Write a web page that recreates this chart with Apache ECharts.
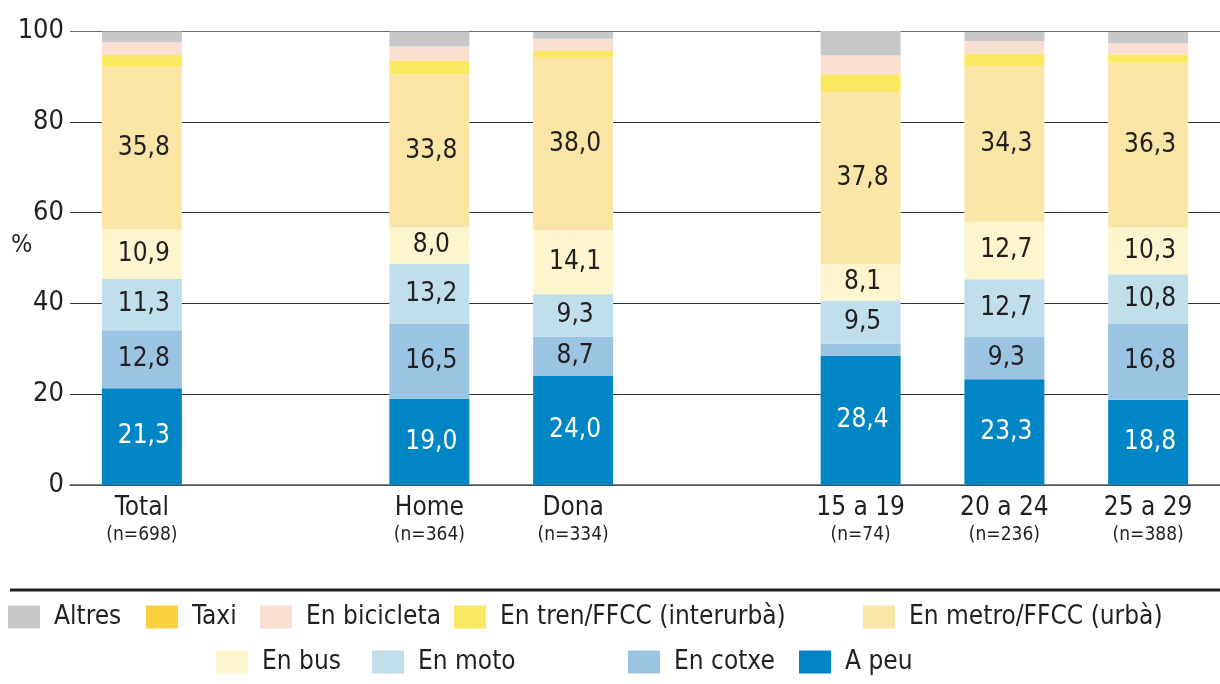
<!DOCTYPE html>
<html>
<head>
<meta charset="utf-8">
<script src="https://cdn.jsdelivr.net/npm/echarts@6/dist/echarts.min.js"></script>
<style>
  html, body { margin: 0; padding: 0; background: #fff; }
  #chart { width: 1220px; height: 684px; }
</style>
</head>
<body>
<div id="chart"></div>
<script>
// Groups along the x axis; empty names leave a gap between groups
const categories = ['Total', '', 'Home', 'Dona', '', '15 a 19', '20 a 24', '25 a 29'];
const sampleSizes = ['698', '', '364', '334', '', '74', '236', '388'];

// Share of trips by mode (%), one value per category ('-' = gap)
const aPeu       = [21.3, '-', 19.0, 24.0, '-', 28.4, 23.3, 18.8];
const enCotxe    = [12.8, '-', 16.5,  8.7, '-',  2.7,  9.3, 16.8];
const enMoto     = [11.3, '-', 13.2,  9.3, '-',  9.5, 12.7, 10.8];
const enBus      = [10.9, '-',  8.0, 14.1, '-',  8.1, 12.7, 10.3];
const enMetro    = [35.8, '-', 33.8, 38.0, '-', 37.8, 34.3, 36.3];
const enTren     = [ 2.6, '-',  3.0,  1.5, '-',  4.0,  2.7,  1.8];
const enBicicleta= [ 2.8, '-',  3.1,  2.7, '-',  4.1,  2.8,  2.5];
const taxi       = [ 0.0, '-',  0.0,  0.0, '-',  0.0,  0.0,  0.0];
const altres     = [ 2.4, '-',  3.3,  1.5, '-',  5.4,  2.0,  2.5];

const yTicks = [0, 20, 40, 60, 80, 100];

// Legend rows: entry name with its left edge
const legendRow1 = ['Altres', 'Taxi', 'En bicicleta', 'En tren/FFCC (interurbà)', 'En metro/FFCC (urbà)'];
const legendRow1Left = [8, 146, 260, 454, 863];
const legendRow2 = ['En bus', 'En moto', 'En cotxe', 'A peu'];
const legendRow2Left = [216, 372, 628, 799];

const FONT = "'Liberation Sans Narrow', 'DejaVu Sans Condensed', 'Roboto', sans-serif";
const DARK = '#231f20';

function fmt(v) {
  return String(v.toFixed(1)).replace('.', ',');
}

function makeSeries(name, data, color, labelColor, showLabel) {
  return {
    name: name,
    type: 'bar',
    stack: 'modes',
    barWidth: 80,
    data: data,
    itemStyle: { color: color },
    label: {
      show: showLabel,
      position: 'inside',
      offset: [2, 0],
      color: labelColor,
      fontFamily: FONT,
      fontSize: 26,
      // thin slivers get no text
      formatter: p => (p.value >= 5 ? fmt(p.value) : '')
    },
    emphasis: { disabled: true }
  };
}

const series = [
  makeSeries('A peu', aPeu, '#0086c5', '#ffffff', true),
  makeSeries('En cotxe', enCotxe, '#9bc4e2', DARK, true),
  makeSeries('En moto', enMoto, '#c0dfeb', DARK, true),
  makeSeries('En bus', enBus, '#fcf5cd', DARK, true),
  makeSeries('En metro/FFCC (urbà)', enMetro, '#f9e5a5', DARK, true),
  makeSeries('En tren/FFCC (interurbà)', enTren, '#f9e862', DARK, false),
  makeSeries('En bicicleta', enBicicleta, '#f8dfd2', DARK, false),
  makeSeries('Taxi', taxi, '#fdd13e', DARK, false),
  makeSeries('Altres', altres, '#c7c8ca', DARK, false)
];

function legendItem(name, left, top) {
  return {
    orient: 'horizontal',
    left: left,
    top: top,
    padding: 0,
    itemWidth: 32,
    itemHeight: 23,
    icon: 'rect',
    selectedMode: false,
    data: [name],
    textStyle: {
      fontFamily: FONT,
      fontSize: 26,
      color: DARK,
      padding: [0, 0, 0, 9]
    }
  };
}

const legends = [];
legendRow1.forEach((n, i) => legends.push(legendItem(n, legendRow1Left[i], 604)));
legendRow2.forEach((n, i) => legends.push(legendItem(n, legendRow2Left[i], 649)));

const chart = echarts.init(document.getElementById('chart'), null, { renderer: 'canvas' });

chart.setOption({
  animation: false,
  backgroundColor: '#ffffff',
  grid: { left: 70, right: 0, top: 31, bottom: 199, containLabel: false, outerBoundsMode: 'none' },
  xAxis: {
    type: 'category',
    data: categories,
    axisTick: { show: false },
    axisLine: { show: true, lineStyle: { color: '#555', width: 1.5 } },
    axisLabel: {
      interval: 0,
      margin: 10,
      fontFamily: FONT,
      color: DARK,
      formatter: (v, i) => v ? '{a|' + v + '}\n{b|(n=' + sampleSizes[i] + ')}' : '',
      rich: {
        a: { fontFamily: FONT, fontSize: 26, lineHeight: 26, color: DARK },
        b: { fontFamily: FONT, fontSize: 19, lineHeight: 28, color: DARK }
      }
    }
  },
  yAxis: {
    type: 'value',
    min: yTicks[0],
    max: yTicks[yTicks.length - 1],
    interval: 20,
    axisLine: { show: false },
    axisTick: { show: false },
    axisLabel: { fontFamily: FONT, fontSize: 27, color: DARK, margin: 6 },
    splitLine: {
      show: true,
      lineStyle: { color: ['#555', '#333', '#333', '#333', '#333', '#6a6a6a'], width: 1.2 }
    }
  },
  legend: legends,
  graphic: [
    {
      type: 'line',
      shape: { x1: 10, y1: 590, x2: 1220, y2: 590 },
      style: { stroke: '#231f20', lineWidth: 3 },
      silent: true
    },
    {
      type: 'text',
      left: 11,
      top: 233,
      style: { text: '%', fontFamily: FONT, fontSize: 25, fill: DARK },
      silent: true
    }
  ],
  series: series
});
</script>
</body>
</html>
